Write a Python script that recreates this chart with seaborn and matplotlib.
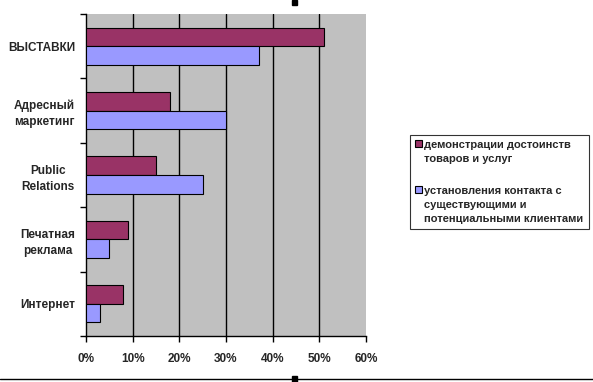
import matplotlib
matplotlib.use("Agg")
import matplotlib.pyplot as plt
import matplotlib.ticker as mticker
import seaborn as sns
import pandas as pd

categories = ["ВЫСТАВКИ", "Адресный\nмаркетинг", "Public\nRelations", "Печатная\nреклама", "Интернет"]
series_names = ["демонстрации достоинств\nтоваров и услуг",
                "установления контакта с\nсуществующими и\nпотенциальными клиентами"]
demo_values = [51, 18, 15, 9, 8]
contact_values = [37, 30, 25, 5, 3]
x_ticks = [0, 10, 20, 30, 40, 50, 60]
colors = ["#993366", "#9999FF"]

df = pd.DataFrame({
    "cat": categories * 2,
    "series": [series_names[0]] * len(categories) + [series_names[1]] * len(categories),
    "val": demo_values + contact_values,
})

sns.set_theme(style="white")
plt.rcParams["font.family"] = ["Liberation Sans", "DejaVu Sans"]
plt.rcParams["font.weight"] = "bold"

fig = plt.figure(figsize=(5.93, 3.82), dpi=100)
ax = fig.add_axes([86 / 593, 1 - 336 / 382, 280 / 593, 322 / 382])
ax.set_facecolor("#C0C0C0")

sns.barplot(data=df, x="val", y="cat", hue="series", order=categories,
            hue_order=series_names, palette=colors, orient="h", width=0.58,
            edgecolor="black", linewidth=0.8, saturation=1, ax=ax, zorder=3)

ax.set_xlim(0, 60)
ax.set_ylim(len(categories) - 0.5, -0.5)
ax.set_xticks(x_ticks)
ax.xaxis.set_major_formatter(mticker.FuncFormatter(lambda v, p: f"{int(v)}%"))
for t in x_ticks[1:-1]:
    ax.axvline(t, color="black", lw=1, zorder=1)

ax.set_xlabel("")
ax.set_ylabel("")
for s in ["top", "right"]:
    ax.spines[s].set_visible(False)
for s in ["left", "bottom"]:
    ax.spines[s].set_visible(True)
    ax.spines[s].set_color("black")
    ax.spines[s].set_linewidth(1)

ax.tick_params(axis="x", which="major", direction="out", length=4, width=1,
               color="black", labelsize=8.5, pad=8, bottom=True)
ax.tick_params(axis="y", which="major", length=0, labelsize=8.5, pad=8)
ax.set_yticks([i - 0.5 for i in range(len(categories) + 1)], minor=True)
ax.tick_params(axis="y", which="minor", direction="out", length=4, width=1,
               color="black", left=True)
for lbl in ax.get_yticklabels():
    lbl.set_horizontalalignment("right")
    lbl.set_multialignment("center")
    lbl.set_fontweight("bold")
    lbl.set_linespacing(1.45)
for lbl in ax.get_xticklabels():
    lbl.set_fontweight("bold")

handles, labels = ax.get_legend_handles_labels()
ax.get_legend().remove()
leg = fig.legend(handles, labels, loc="upper left",
                 bbox_to_anchor=(410 / 593, 1 - 135 / 382),
                 frameon=True, fancybox=False, fontsize=8,
                 handlelength=0.6, handleheight=0.6, handletextpad=0.25,
                 labelspacing=1.9, borderpad=0.45, borderaxespad=0)
leg.get_frame().set_edgecolor("black")
leg.get_frame().set_linewidth(0.8)
for t in leg.get_texts():
    t.set_fontweight("bold")
    t.set_linespacing(1.55)
try:
    for col in leg._legend_handle_box.get_children():
        for row in col.get_children():
            row.align = "top"
except Exception:
    pass

# bottom border line and selection handles of the original
fig.add_artist(plt.Line2D([0, 1], [1 - 379 / 382, 1 - 379 / 382],
                          transform=fig.transFigure, color="black", lw=1))
fig.add_artist(plt.Rectangle((292 / 593, 1 - 5 / 382), 5 / 593, 5 / 382,
                             transform=fig.transFigure, color="black"))
fig.add_artist(plt.Rectangle((292 / 593, 1 - 382 / 382), 5 / 593, 6 / 382,
                             transform=fig.transFigure, color="black"))

fig.savefig("out.png", dpi=100)
